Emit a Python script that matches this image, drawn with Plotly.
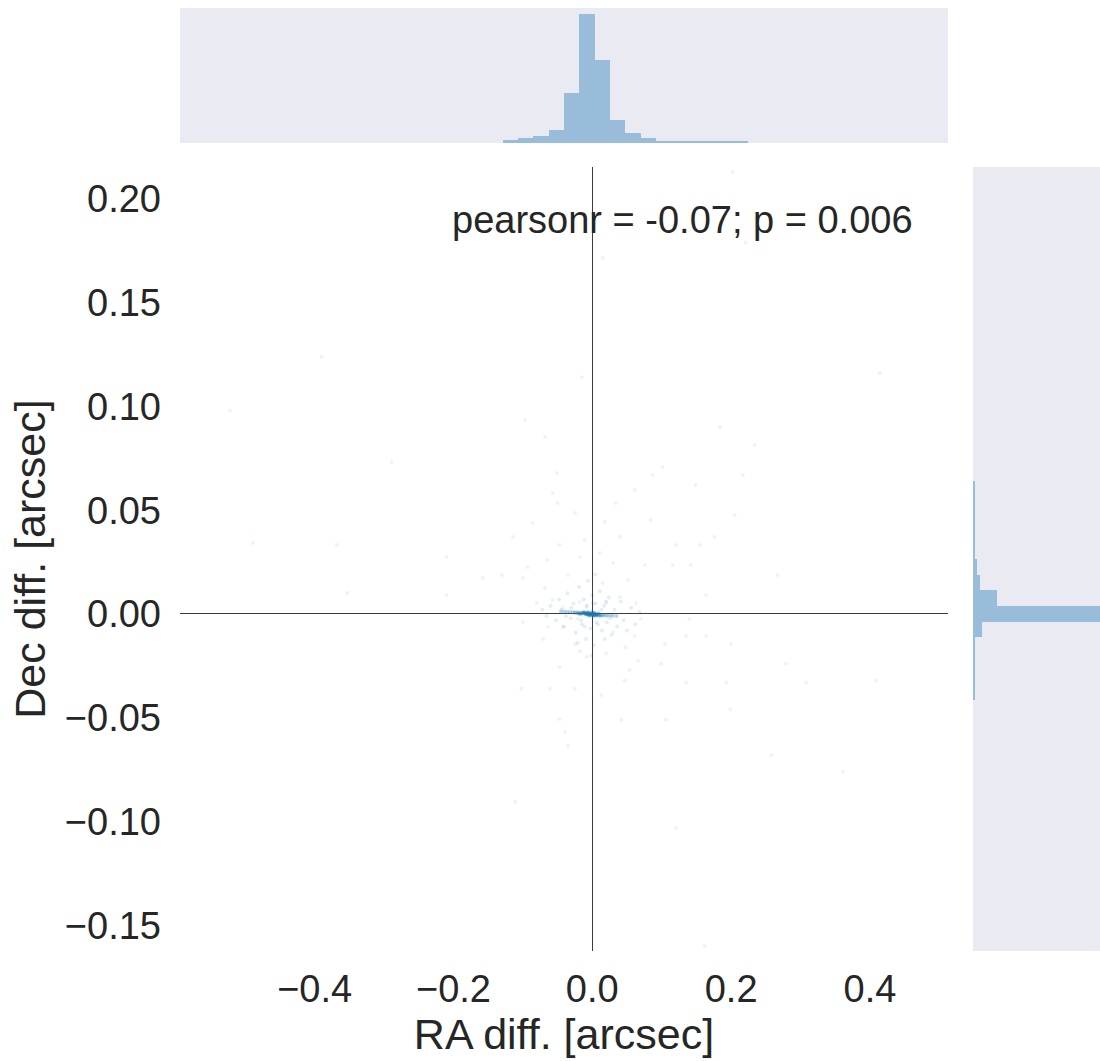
import plotly.graph_objects as go

# ---------------- data ----------------
# scatter: RA / Dec differences [arcsec]
CORE_RA = [-0.045, -0.040, -0.036, -0.032, -0.028, -0.025, -0.022, -0.020, -0.018, -0.016,
           -0.014, -0.012, -0.011, -0.010, -0.009, -0.008, -0.007, -0.006, -0.005, -0.004,
           -0.003, -0.002, -0.001, 0.000, 0.001, 0.002, 0.003, 0.004, 0.005, 0.006,
           0.007, 0.008, 0.010, 0.012, 0.014, 0.016, 0.019, 0.022, 0.026, 0.030, 0.035,
           -0.012, -0.010, -0.008, -0.007, -0.006, -0.005, -0.004, -0.003, -0.002, -0.001,
           0.000, 0.001, 0.002, 0.003, 0.004, 0.005, 0.006, -0.009, -0.004, 0.000, 0.003,
           -0.006, 0.008, -0.015, 0.011, -0.020, -0.017, -0.013, 0.002, 0.009]
CORE_DEC = [0.0012, 0.0011, 0.0010, 0.0009, 0.0008, 0.0006, 0.0007, 0.0005, 0.0004, 0.0006,
            0.0003, 0.0005, 0.0002, 0.0004, 0.0001, 0.0003, -0.0001, 0.0002, 0.0000, -0.0002,
            0.0001, -0.0002, -0.0001, 0.0000, -0.0003, -0.0001, -0.0003, -0.0002, -0.0004, -0.0001,
            -0.0004, -0.0005, -0.0003, -0.0006, -0.0005, -0.0007, -0.0006, -0.0008, -0.0007, -0.0009,
            -0.0010,
            0.0008, 0.0002, 0.0006, 0.0001, -0.0005, 0.0004, 0.0001, -0.0006, 0.0003, -0.0004,
            0.0003, -0.0007, 0.0001, -0.0004, 0.0002, -0.0008, -0.0003, -0.0001, -0.0009, 0.0010,
            0.0005, 0.0010, -0.0005, 0.0004, -0.0010, 0.0002, -0.0003, 0.0007, -0.0008, 0.0003]

HALO_RA = [-0.060, -0.052, -0.048, -0.041, -0.036, -0.031, -0.027, -0.024, -0.019, -0.015,
           -0.012, -0.009, -0.006, -0.003, 0.000, 0.002, 0.005, 0.008, 0.011, 0.014,
           0.017, 0.021, 0.024, 0.028, 0.032, 0.036, 0.041, 0.045, 0.050, 0.056,
           0.062, 0.068, -0.066, -0.072, -0.044, -0.038, 0.018, -0.021, 0.004, -0.001,
           -0.030, -0.016, -0.008, 0.006, 0.013, 0.026, -0.011, 0.001, 0.020, -0.025]
HALO_DEC = [0.004, -0.003, 0.007, -0.006, 0.010, -0.002, 0.005, -0.009, 0.013, -0.005,
            0.007, -0.012, 0.016, -0.007, 0.009, -0.015, 0.005, -0.005, 0.011, -0.008,
            0.004, -0.004, 0.008, -0.010, 0.002, -0.006, 0.006, -0.003, -0.008, 0.003,
            -0.005, 0.001, -0.001, 0.002, 0.002, -0.001, -0.012, -0.014, 0.019, -0.020,
            0.003, -0.003, 0.004, -0.004, 0.002, -0.002, -0.006, 0.005, 0.006, 0.001]

OUT_RA = [0.066, 0.099, 0.047, 0.135, 0.193, 0.308, 0.409, 0.013, 0.199, 0.042,
          0.106, 0.258, 0.361, 0.121, 0.162, 0.279, 0.200, 0.105, 0.164, 0.135,
          0.061, 0.070, 0.140, 0.030, 0.048, 0.020, 0.054,
          -0.100, -0.071, -0.025, -0.047, -0.102, -0.061, -0.025, -0.047, -0.039, -0.035,
          -0.111, -0.064, -0.042, -0.018, -0.008, -0.021,
          -0.015, -0.097, -0.068, -0.289, -0.051, -0.057, -0.050, -0.025, -0.086, -0.114,
          -0.047, -0.011, -0.489, -0.368, -0.210, -0.065, -0.093, -0.018, -0.158, -0.130,
          -0.100, -0.035, -0.353, -0.210, -0.068, -0.080, -0.057, -0.018, -0.042, -0.008,
          -0.522, -0.390,
          0.202, 0.221, 0.015, 0.414, 0.184, 0.234, 0.087, 0.217, 0.101, 0.061,
          0.149, 0.034, 0.018, 0.084, 0.205, 0.040, 0.176, 0.120, 0.155, 0.011,
          0.076, 0.116, 0.142, 0.267, 0.030, 0.051, 0.164, 0.063, 0.015, 0.040, 0.020]
OUT_DEC = [-0.0227, -0.024, -0.032, -0.033, -0.033, -0.033, -0.032, -0.039, -0.046, -0.051,
           -0.051, -0.068, -0.076, -0.103, -0.160, -0.024, -0.0145, -0.0145, -0.0106, -0.0106,
           -0.0106, -0.0024, -0.0024, -0.0087, -0.016, -0.019, -0.027,
           -0.004, -0.012, -0.0145, -0.0255, -0.036, -0.036, -0.036, -0.0506, -0.057, -0.0636,
           -0.0906, -0.0063, -0.0063, -0.018, -0.0207, -0.0024,
           0.114, 0.0935, 0.0853, 0.0733, 0.068, 0.0583, 0.0535, 0.0487, 0.0439, 0.0371,
           0.0333, 0.0357, 0.0342, 0.0333, 0.0275, 0.026, 0.0227, 0.0275, 0.0173, 0.0188,
           0.0173, 0.0188, 0.0101, 0.0092, 0.0125, 0.0053, 0.0067, 0.0058, 0.0029, 0.0034,
           0.098, 0.124,
           0.213, 0.179, 0.1715, 0.116, 0.090, 0.0814, 0.067, 0.067, 0.0708, 0.0598,
           0.0622, 0.0535, 0.0443, 0.0453, 0.0477, 0.0371, 0.0371, 0.0333, 0.0333, 0.0294,
           0.0236, 0.0236, 0.0236, 0.0188, 0.0246, 0.0164, 0.0092, 0.0053, 0.0149, 0.0082, 0.0053]

# marginal histograms (50 bins each, counts)
RA_BIN_START = -0.594
RA_BIN_WIDTH = 0.02213
RA_COUNTS = [0] * 21 + [12, 22, 33, 57, 227, 582, 375, 102, 45, 22,
                        10, 10, 10, 10, 10, 10] + [0] * 13

DEC_BIN_START = -0.1624
DEC_BIN_WIDTH = 0.007556
DEC_COUNTS = [0] * 16 + [14, 14, 14, 14, 74, 1050, 195, 55, 32,
                         14, 14, 14, 14, 14] + [0] * 20

X_RANGE = [-0.594, 0.5125]
Y_RANGE = [-0.1624, 0.2154]
X_TICKS = [-0.4, -0.2, 0.0, 0.2, 0.4]
Y_TICKS = [-0.15, -0.10, -0.05, 0.00, 0.05, 0.10, 0.15, 0.20]
ANNOT = "pearsonr = -0.07; p = 0.006"

# ---------------- figure ----------------
FONT = "Liberation Sans, Arial, sans-serif"
TXT = "#262626"
PT_COLOR = "#1f77b4"
HIST_FILL = "rgba(31,119,180,0.4)"
PANEL_BG = "#EAEAF2"

ra_centers = [RA_BIN_START + (i + 0.5) * RA_BIN_WIDTH for i in range(len(RA_COUNTS))]
dec_centers = [DEC_BIN_START + (i + 0.5) * DEC_BIN_WIDTH for i in range(len(DEC_COUNTS))]

fig = go.Figure()

# faint outer points
fig.add_trace(go.Scatter(
    x=OUT_RA, y=OUT_DEC, mode="markers",
    marker=dict(size=4, color=PT_COLOR, opacity=0.08, line=dict(width=0)),
    xaxis="x", yaxis="y", showlegend=False, hoverinfo="x+y"))
# halo around the centre
fig.add_trace(go.Scatter(
    x=HALO_RA, y=HALO_DEC, mode="markers",
    marker=dict(size=4, color=PT_COLOR, opacity=0.12, line=dict(width=0)),
    xaxis="x", yaxis="y", showlegend=False, hoverinfo="x+y"))
# dense core
fig.add_trace(go.Scatter(
    x=CORE_RA, y=CORE_DEC, mode="markers",
    marker=dict(size=4, color=PT_COLOR, opacity=0.3, line=dict(width=0)),
    xaxis="x", yaxis="y", showlegend=False, hoverinfo="x+y"))

fig.add_trace(go.Bar(
    x=ra_centers, y=RA_COUNTS, width=RA_BIN_WIDTH,
    marker=dict(color=HIST_FILL, line=dict(width=0)),
    xaxis="x2", yaxis="y2", showlegend=False))

fig.add_trace(go.Bar(
    y=dec_centers, x=DEC_COUNTS, width=DEC_BIN_WIDTH, orientation="h",
    marker=dict(color=HIST_FILL, line=dict(width=0)),
    xaxis="x3", yaxis="y3", showlegend=False))

W, H = 1100, 1061
ML, MR, MT, MB = 180, 0, 8, 110
pw, ph = W - ML - MR, H - MT - MB

def dx(px):
    return (px - ML) / pw

def dy(py):
    return (H - MB - py) / ph

main_x = [dx(180), dx(948)]
main_y = [dy(951), dy(167)]
top_y = [dy(143), dy(8)]
right_x = [dx(973), 1.0]

hidden = dict(showgrid=False, zeroline=False, showticklabels=False, ticks="", showline=False)

fig.update_layout(
    width=W, height=H,
    margin=dict(l=ML, r=MR, t=MT, b=MB),
    paper_bgcolor="white", plot_bgcolor="white",
    font=dict(family=FONT, color=TXT),
    bargap=0,
    xaxis=dict(domain=main_x, range=X_RANGE, tickvals=X_TICKS, tickformat=".1f",
               showgrid=False, zeroline=True, zerolinecolor="#3c3c3c", zerolinewidth=1.3,
               showline=False, ticks="", ticklabelstandoff=12,
               tickfont=dict(size=38, color=TXT),
               title=dict(text="RA diff. [arcsec]", font=dict(size=43, color=TXT), standoff=4)),
    yaxis=dict(domain=main_y, range=Y_RANGE, tickvals=Y_TICKS, tickformat=".2f",
               showgrid=False, zeroline=True, zerolinecolor="#3c3c3c", zerolinewidth=1.3,
               showline=False, ticks="", ticklabelstandoff=18,
               tickfont=dict(size=38, color=TXT),
               title=dict(text="Dec diff. [arcsec]", font=dict(size=43, color=TXT), standoff=5)),
    xaxis2=dict(domain=main_x, range=X_RANGE, anchor="y2", **hidden),
    yaxis2=dict(domain=top_y, range=[0, max(RA_COUNTS) * 1.05], anchor="x2", **hidden),
    xaxis3=dict(domain=right_x, range=[0, max(DEC_COUNTS) * 1.05 * 127 / 135], anchor="y3", **hidden),
    yaxis3=dict(domain=main_y, range=Y_RANGE, anchor="x3", **hidden),
    shapes=[
        dict(type="rect", xref="x2 domain", yref="y2 domain", x0=0, x1=1, y0=0, y1=1,
             fillcolor=PANEL_BG, line=dict(width=0), layer="below"),
        dict(type="rect", xref="x3 domain", yref="y3 domain", x0=0, x1=1, y0=0, y1=1,
             fillcolor=PANEL_BG, line=dict(width=0), layer="below"),
    ],
    annotations=[
        dict(text=ANNOT, xref="x", yref="y", x=0.465, y=0.19, xanchor="right", yanchor="middle",
             showarrow=False, font=dict(size=38, color=TXT, family=FONT)),
    ],
)

fig.write_html("out.html", config={"displayModeBar": False},
               post_script="document.body.style.margin='0';document.body.style.overflow='hidden';")
